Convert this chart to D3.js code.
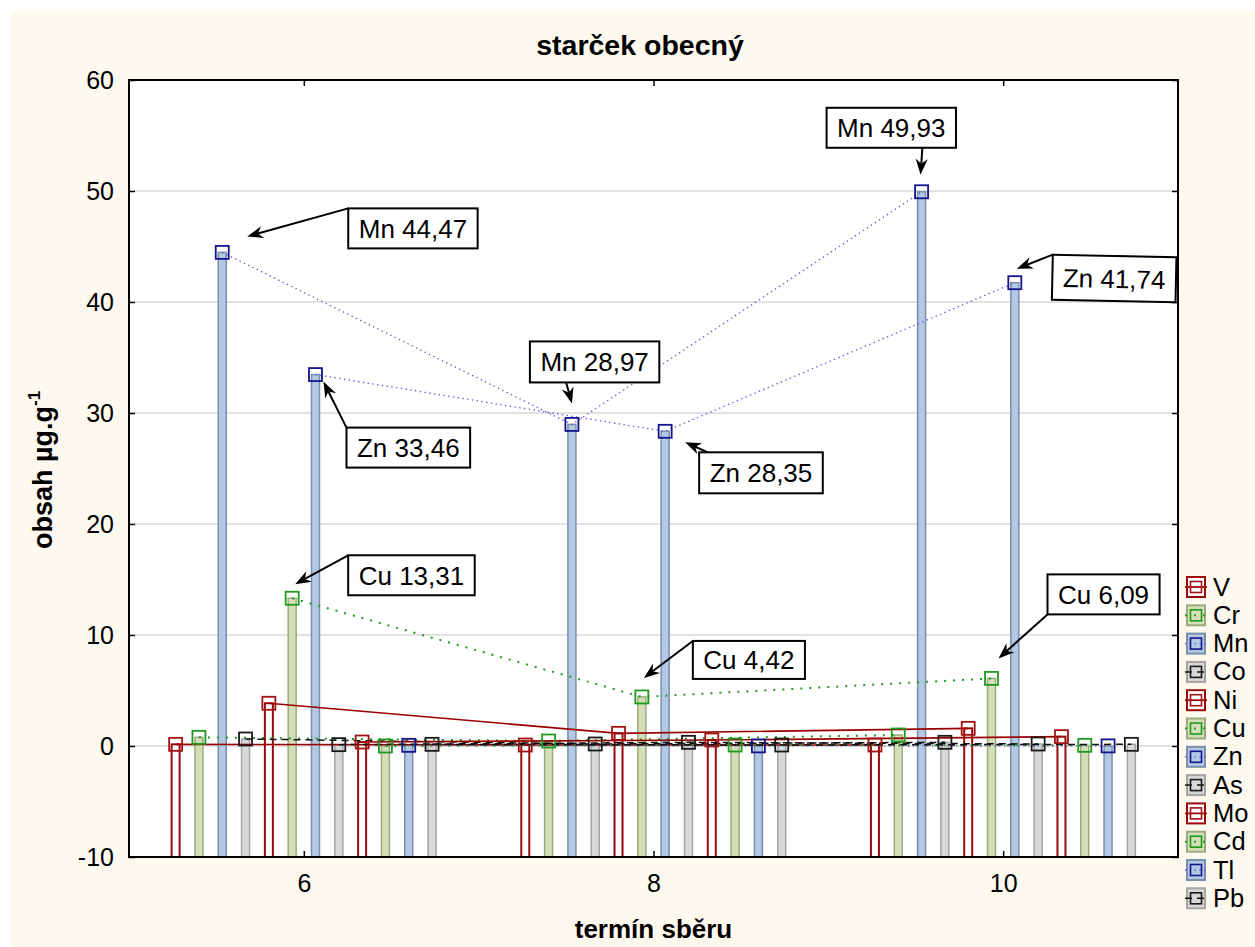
<!DOCTYPE html>
<html><head><meta charset="utf-8">
<script src="https://cdn.jsdelivr.net/npm/d3@7"></script>
<style>
html,body{margin:0;padding:0;background:#fff;}
svg{display:block;font-family:"Liberation Sans",Arial,Helvetica,sans-serif;}
</style></head><body>
<svg id="chart" width="1255" height="947"></svg>
<script>
// ---------------- DATA ----------------
const terms = [6, 8, 10];
const elements = ["V","Cr","Mn","Co","Ni","Cu","Zn","As","Mo","Cd","Tl","Pb"];
const valV  = [0.15, 0.09, 0.09];
const valCr = [0.78, 0.45, 0.99];
const valMn = [44.47, 28.97, 49.93];
const valCo = [0.63, 0.18, 0.33];
const valNi = [3.85, 1.14, 1.59];
const valCu = [13.31, 4.42, 6.09];
const valZn = [33.46, 28.35, 41.74];
const valAs = [0.12, 0.33, 0.18];
const valMo = [0.36, 0.54, 0.84];
const valCd = [0.00, 0.09, 0.06];
const valTl = [0.06, 0.01, 0.01];
const valPb = [0.15, 0.09, 0.15];
const yTicks = [-10, 0, 10, 20, 30, 40, 50, 60];
const xTicks = [6, 8, 10];
const chartTitle = "starček obecný";
const xTitle = "termín sběru";
const yTitle = "obsah µg.g";
const yTitleSup = "-1";
// labelled points (element, term)
const annotated = [
  ["Mn", 6], ["Mn", 8], ["Mn", 10],
  ["Zn", 6], ["Zn", 8], ["Zn", 10],
  ["Cu", 6], ["Cu", 8], ["Cu", 10]
];

// ---------------- LAYOUT / STYLE ----------------
const series = {V:valV, Cr:valCr, Mn:valMn, Co:valCo, Ni:valNi, Cu:valCu,
                Zn:valZn, As:valAs, Mo:valMo, Cd:valCd, Tl:valTl, Pb:valPb};
const kinds = ["red","green","blue","gray"];
const styles = {
  red:   {fill:"#ffffff", stroke:"#9b0a0a", sw:2,   marker:"#a31212", line:"#990000", dash:null,      lw:1.7},
  green: {fill:"#d4dfb8", stroke:"#9caa80", sw:1.5, marker:"#1e9a1e", line:"#1e9a1e", dash:"2,7",     lw:2},
  blue:  {fill:"#b3c8e2", stroke:"#7b8fab", sw:1.5, marker:"#14148c", line:"#5a5ad0", dash:"1.4,3.4", lw:1.3},
  gray:  {fill:"#d8d8d8", stroke:"#a4a4a4", sw:1.5, marker:"#1a1a1a", line:"#111111", dash:"7,5",     lw:1.5}
};
// annotation box offsets from point (px), arrow tip offsets, arrow anchor on box
const annLayout = [
  {dx:126, dy:-44, h:40, tip:[25,-16], anc:[0,0]},
  {dx:-42, dy:-83, h:41, tip:[0,-21],  anc:[0.28,1]},
  {dx:-95, dy:-84, h:40, tip:[-1,-17], anc:[0.74,1]},
  {dx:31,  dy:53,  h:40, tip:[8,7],    anc:[0,0]},
  {dx:34,  dy:21,  h:41, tip:[20,11],  anc:[0.07,0]},
  {dx:38,  dy:-28, h:45, tip:[2,-14],  anc:[0,0], rot:1.2},
  {dx:56,  dy:-43, h:40, tip:[3,-14],  anc:[0,0]},
  {dx:51,  dy:-56, h:38, tip:[2,-19],  anc:[0,0]},
  {dx:56,  dy:-104,h:40, tip:[7,-20],  anc:[0,1]}
];

const W = 1255, H = 947;
const plot = {left:129, top:80, right:1178, bottom:857};
const svg = d3.select("#chart");

// background
svg.append("rect").attr("x",0).attr("y",0).attr("width",W).attr("height",H).attr("fill","#ffffff");
svg.append("rect").attr("x",11).attr("y",11).attr("width",W-11).attr("height",H-11).attr("fill","#fdf9ee");
svg.append("rect").attr("x",plot.left).attr("y",plot.top)
   .attr("width",plot.right-plot.left).attr("height",plot.bottom-plot.top).attr("fill","#ffffff");

// scales
const x = d3.scaleLinear().domain([5, 11]).range([plot.left, plot.right]);
const y = d3.scaleLinear().domain([-10, 60]).range([plot.bottom, plot.top]);
const groupW = x(6.8) - x(5.2);
const inner = d3.scaleBand().domain(elements).range([-groupW/2, groupW/2]);
const bw = 8;
const px = (el, t) => x(t) + inner(el) + inner.bandwidth()/2;

// grid
svg.append("g").selectAll("line").data(yTicks.filter(v => v > -10 && v < 60)).join("line")
  .attr("x1",plot.left).attr("x2",plot.right)
  .attr("y1",d=>y(d)).attr("y2",d=>y(d))
  .attr("stroke","#d9d9d9").attr("stroke-width",1.6);

// bars
const barG = svg.append("g");
elements.forEach((el, i) => {
  const st = styles[kinds[i % 4]];
  barG.append("g").selectAll("rect").data(terms.map((t, j) => ({t, v: series[el][j]}))).join("rect")
    .attr("x", d => px(el, d.t) - bw/2)
    .attr("y", d => y(d.v))
    .attr("width", bw)
    .attr("height", d => y(-10) - y(d.v))
    .attr("fill", st.fill).attr("stroke", st.stroke).attr("stroke-width", st.sw);
});

// lines
const lineG = svg.append("g");
elements.forEach((el, i) => {
  const st = styles[kinds[i % 4]];
  const line = d3.line().x(d => px(el, d.t)).y(d => y(d.v)).curve(d3.curveLinear);
  lineG.append("path").datum(terms.map((t, j) => ({t, v: series[el][j]})))
    .attr("d", line).attr("fill","none")
    .attr("stroke", st.line).attr("stroke-width", st.lw)
    .attr("stroke-dasharray", st.dash);
});

// markers
const ms = 13;
const markG = svg.append("g");
elements.forEach((el, i) => {
  const st = styles[kinds[i % 4]];
  markG.append("g").selectAll("rect").data(terms.map((t, j) => ({t, v: series[el][j]}))).join("rect")
    .attr("x", d => px(el, d.t) - ms/2)
    .attr("y", d => y(d.v) - ms/2)
    .attr("width", ms).attr("height", ms)
    .attr("fill","none").attr("stroke", st.marker).attr("stroke-width", 1.8);
});

// frame
svg.append("rect").attr("x",plot.left).attr("y",plot.top)
   .attr("width",plot.right-plot.left).attr("height",plot.bottom-plot.top)
   .attr("fill","none").attr("stroke","#000").attr("stroke-width",2);

// axes
const axisFont = 25;
const fmt = d => String(d);
svg.append("g").attr("transform",`translate(${plot.left},0)`)
  .call(d3.axisLeft(y).tickValues(yTicks).tickFormat(fmt).tickSizeInner(-6).tickSizeOuter(0).tickPadding(15));
svg.append("g").attr("transform",`translate(0,${plot.bottom})`)
  .call(d3.axisBottom(x).tickValues(xTicks).tickFormat(fmt).tickSizeInner(-6).tickSizeOuter(0).tickPadding(17));
svg.append("g").attr("transform",`translate(${plot.right},0)`)
  .call(d3.axisRight(y).tickValues(yTicks).tickFormat("").tickSizeInner(-6).tickSizeOuter(0));
svg.append("g").attr("transform",`translate(0,${plot.top})`)
  .call(d3.axisTop(x).tickValues(xTicks).tickFormat("").tickSizeInner(-6).tickSizeOuter(0));
svg.selectAll(".domain").remove();
svg.selectAll(".tick line").attr("stroke","#000").attr("stroke-width",1.5);
svg.selectAll(".tick text").attr("font-size",axisFont).attr("fill","#000")
   .attr("font-family",'"Liberation Sans",Arial,sans-serif');

// titles
svg.append("text").attr("x",640).attr("y",55).attr("text-anchor","middle")
   .attr("font-size",28.5).attr("font-weight","bold").text(chartTitle);
svg.append("text").attr("x",(plot.left+plot.right)/2).attr("y",938).attr("text-anchor","middle")
   .attr("font-size",26).attr("font-weight","bold").text(xTitle);
const yt = svg.append("text").attr("transform","translate(52,470) rotate(-90)")
   .attr("text-anchor","middle").attr("font-size",27).attr("font-weight","bold");
yt.append("tspan").text(yTitle);
yt.append("tspan").attr("dy",-12).attr("font-size",17).text(yTitleSup);

// annotations
const annG = svg.append("g");
function arrow(g, x0, y0, x1, y1) {
  const dx = x1 - x0, dy = y1 - y0, len = Math.hypot(dx, dy);
  const ux = dx/len, uy = dy/len, nx = -uy, ny = ux;
  const L = 16, Wd = 6, notch = 5;
  g.append("line").attr("x1",x0).attr("y1",y0)
    .attr("x2",x1 - ux*(L-notch)).attr("y2",y1 - uy*(L-notch))
    .attr("stroke","#000").attr("stroke-width",2);
  const pts = [[x1,y1],[x1-ux*L+nx*Wd, y1-uy*L+ny*Wd],[x1-ux*(L-notch), y1-uy*(L-notch)],[x1-ux*L-nx*Wd, y1-uy*L-ny*Wd]];
  g.append("path").attr("d","M"+pts.map(p=>p.join(",")).join("L")+"Z").attr("fill","#000");
}
annotated.forEach(([el, t], k) => {
  const j = terms.indexOf(t);
  const v = series[el][j];
  const lay = annLayout[k];
  const cx = px(el, t), cy = y(v);
  const label = el + " " + d3.format(".2f")(v).replace(".", ",");
  const g = annG.append("g");
  const bx = cx + lay.dx, by = cy + lay.dy;
  const tmp = g.append("text").attr("font-size",26).text(label);
  const tw = tmp.node().getComputedTextLength();
  tmp.remove();
  const bwid = tw + 21;
  const bg = g.append("g");
  if (lay.rot) bg.attr("transform",`rotate(${lay.rot},${bx},${by})`);
  bg.append("rect").attr("x",bx).attr("y",by).attr("width",bwid).attr("height",lay.h)
    .attr("fill","#fff").attr("stroke","#000").attr("stroke-width",2);
  bg.append("text").attr("x",bx + bwid/2).attr("y",by + lay.h/2 + 9.5)
    .attr("text-anchor","middle").attr("font-size",26).attr("fill","#000").text(label);
  arrow(g, bx + lay.anc[0]*bwid, by + lay.anc[1]*lay.h, cx + lay.tip[0], cy + lay.tip[1]);
});

// legend
const leg = svg.append("g");
const legY0 = 587, legStep = 28.3, sx = 1187;
elements.forEach((el, i) => {
  const st = styles[kinds[i % 4]];
  const cy = legY0 + i*legStep;
  const g = leg.append("g");
  g.append("rect").attr("x",sx).attr("y",cy-10).attr("width",18).attr("height",20)
    .attr("fill",st.fill).attr("stroke",st.stroke).attr("stroke-width",2);
  g.append("line").attr("x1",sx-2).attr("x2",sx+20).attr("y1",cy).attr("y2",cy)
    .attr("stroke",st.line).attr("stroke-width",st.lw).attr("stroke-dasharray",st.dash);
  g.append("rect").attr("x",sx+3.5).attr("y",cy-5.5).attr("width",11).attr("height",11)
    .attr("fill","none").attr("stroke",st.marker).attr("stroke-width",1.6);
  g.append("text").attr("x",sx+26).attr("y",cy+8.5).attr("font-size",25.5).attr("fill","#000").text(el);
});
</script>
</body></html>
